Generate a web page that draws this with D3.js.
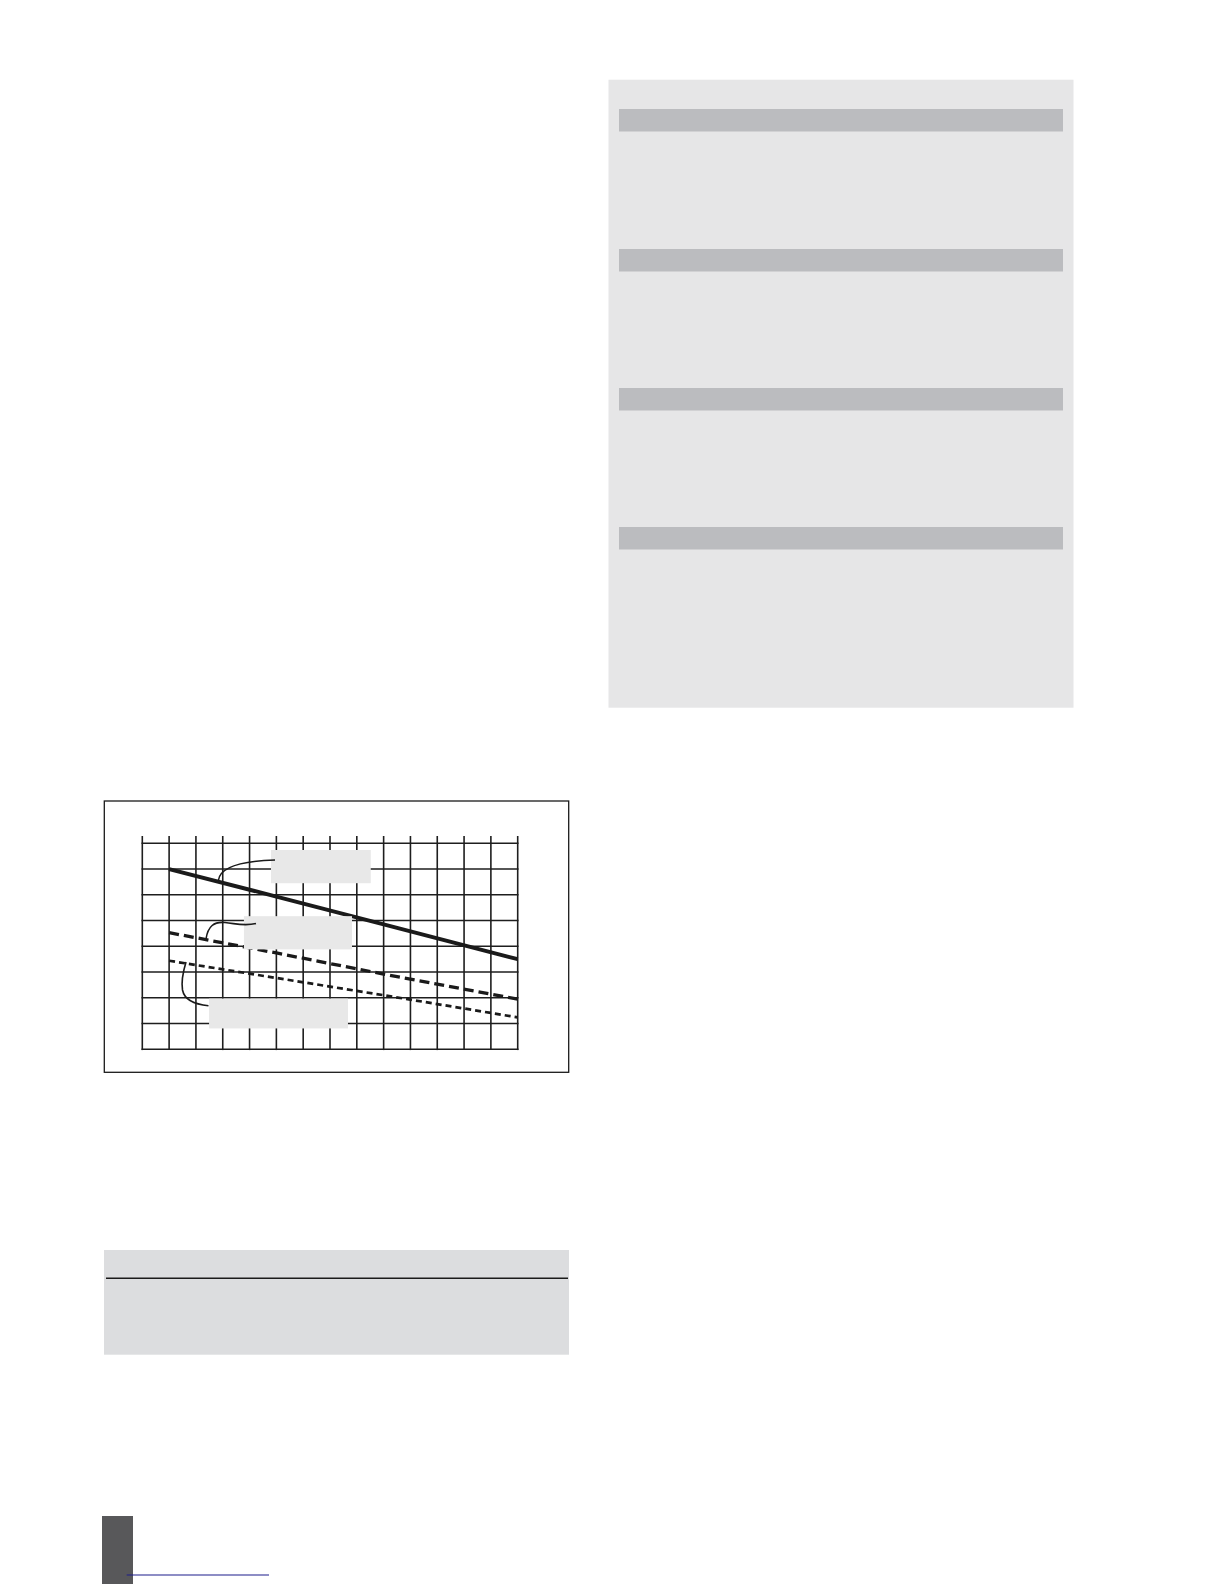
<!DOCTYPE html>
<html>
<head>
<meta charset="utf-8">
<script src="https://cdn.jsdelivr.net/npm/d3@7/dist/d3.min.js"></script>
<style>
html,body{margin:0;padding:0;background:#fff;}
svg{display:block;}
</style>
</head>
<body>
<svg id="page" width="1224" height="1584"></svg>
<script>
// ---- data (grid units) ----
const xPoints = [1, 5, 9, 14];
const solidSeries = [7.0, 5.93, 4.85, 3.5];
const longDashSeries = [4.53, 3.74, 2.92, 1.95];
const shortDashSeries = [3.44, 2.77, 2.1, 1.24];
const xTicks = d3.range(0, 15);
const yTicks = d3.range(0, 9);

const svg = d3.select("#page");

// ---- right-hand grey panel ----
svg.append("rect").attr("x", 608.5).attr("y", 79.7).attr("width", 465).attr("height", 628)
  .attr("fill", "#e6e6e7");
const barTops = [109, 249, 388, 527];
svg.selectAll("rect.hdr").data(barTops).enter().append("rect").attr("class", "hdr")
  .attr("x", 619).attr("y", d => d).attr("width", 444).attr("height", 22.5)
  .attr("fill", "#bbbcbf");

// ---- chart frame ----
svg.append("rect").attr("x", 104.3).attr("y", 801).attr("width", 464.4).attr("height", 271.3)
  .attr("fill", "none").attr("stroke", "#1a1a1a").attr("stroke-width", 1.3);

const x = d3.scaleLinear().domain([0, 14]).range([142.3, 517.7]);
const y = d3.scaleLinear().domain([0, 8]).range([1049.3, 843.3]);

const g = svg.append("g");
g.selectAll("line.v").data(xTicks).enter().append("line").attr("class", "v")
  .attr("x1", d => x(d)).attr("x2", d => x(d))
  .attr("y1", y(8) - 7.3).attr("y2", y(0) + 0.8)
  .attr("stroke", "#1e1e1e").attr("stroke-width", 1.6);
g.selectAll("line.h").data(yTicks).enter().append("line").attr("class", "h")
  .attr("x1", x(0) - 0.8).attr("x2", x(14) + 0.8)
  .attr("y1", d => y(d)).attr("y2", d => y(d))
  .attr("stroke", "#1e1e1e").attr("stroke-width", 1.6);

const line = d3.line().x(d => x(d[0])).y(d => y(d[1]));
const mk = arr => xPoints.map((v, i) => [v, arr[i]]);

g.append("path").datum(mk(shortDashSeries)).attr("d", line)
  .attr("fill", "none").attr("stroke", "#1a1a1a").attr("stroke-width", 2.7)
  .attr("stroke-dasharray", "6,4");
g.append("path").datum(mk(longDashSeries)).attr("d", line)
  .attr("fill", "none").attr("stroke", "#1a1a1a").attr("stroke-width", 3.3)
  .attr("stroke-dasharray", "10,5");
g.append("path").datum(mk(solidSeries)).attr("d", line)
  .attr("fill", "none").attr("stroke", "#1a1a1a").attr("stroke-width", 3.9);

// ---- label boxes (text removed in the reference) in grid units ----
const labelBoxes = [
  {x0: 4.8, x1: 8.52, y0: 7.74, y1: 6.45},
  {x0: 3.79, x1: 7.82, y0: 5.17, y1: 3.88},
  {x0: 2.49, x1: 7.67, y0: 1.97, y1: 0.81}
];
g.selectAll("rect.lbl").data(labelBoxes).enter().append("rect").attr("class", "lbl")
  .attr("x", d => x(d.x0)).attr("y", d => y(d.y0))
  .attr("width", d => x(d.x1) - x(d.x0)).attr("height", d => y(d.y1) - y(d.y0))
  .attr("fill", "#e8e8e8");

// leader curves
const leaders = [
  "M218.5,880 C220.5,866 244,861 275,860",
  "M206,939 C208,926 214,921.5 225,922.5 C236,923.5 244,926.5 256,923.5",
  "M186,962 C183,972 181.5,984 182.5,990 C184.5,1000 195,1004.5 208.5,1005.7"
];
g.selectAll("path.ld").data(leaders).enter().append("path").attr("class", "ld")
  .attr("d", d => d).attr("fill", "none").attr("stroke", "#1a1a1a").attr("stroke-width", 1.6);

// ---- bottom table ----
svg.append("rect").attr("x", 104).attr("y", 1250).attr("width", 465).attr("height", 104.7)
  .attr("fill", "#dcdddf");
svg.append("line").attr("x1", 106).attr("x2", 568).attr("y1", 1278.3).attr("y2", 1278.3)
  .attr("stroke", "#1a1a1a").attr("stroke-width", 1.4);

// ---- page tab & link line ----
svg.append("rect").attr("x", 102).attr("y", 1516).attr("width", 31).attr("height", 68)
  .attr("fill", "#58585a");
svg.append("line").attr("x1", 126.7).attr("x2", 269).attr("y1", 1575).attr("y2", 1575)
  .attr("stroke", "#1c1c8c").attr("stroke-width", 1.2);
</script>
</body>
</html>
